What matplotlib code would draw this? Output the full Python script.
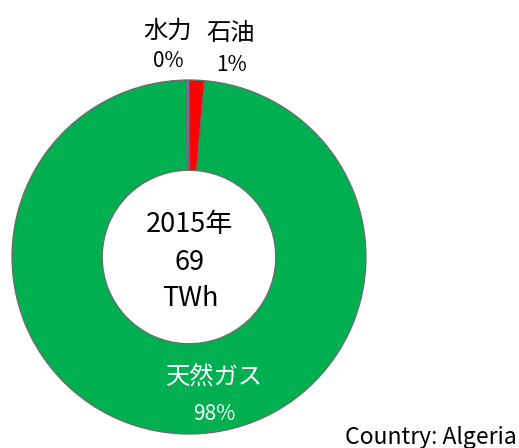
import matplotlib
matplotlib.use("Agg")
import matplotlib.pyplot as plt

plt.rcParams['font.family'] = ['Noto Sans CJK JP', 'DejaVu Sans']

# Data (clockwise from top)
labels = ['石油', '天然ガス', '水力']
shares = [1.4, 98.3, 0.3]
pct_labels = ['1%', '98%', '0%']
colors = ['#FF0000', '#00B050', '#4F81BD']
center_lines = ['2015年', '69', 'TWh']
country = 'Country: Algeria'

W, H = 519, 448
fig = plt.figure(figsize=(W / 100, H / 100), dpi=100)
ax = fig.add_axes([0, 0, 1, 1])

cx, cy, R = 189, 257, 177  # pixel geometry
def d(px, py):
    return (px - cx) / R, (cy - py) / R

wedges, _ = ax.pie(shares, colors=colors, startangle=90, counterclock=False,
                   radius=1.0, wedgeprops=dict(width=0.51, edgecolor='#6b6b6b', linewidth=0.9))
ax.set_xlim(-cx / R, (W - cx) / R)
ax.set_ylim(-(H - cy) / R, cy / R)
ax.set_aspect('auto')
ax.axis('off')

fs_cjk = 17.5
fs = 15
# 水力
x, y = d(168, 31); ax.text(x, y, labels[2], ha='center', va='center', fontsize=fs_cjk)
x, y = d(168, 61); ax.text(x, y, pct_labels[2], ha='center', va='center', fontsize=fs)
# 石油
x, y = d(231, 33); ax.text(x, y, labels[0], ha='center', va='center', fontsize=fs_cjk)
x, y = d(231, 65); ax.text(x, y, pct_labels[0], ha='center', va='center', fontsize=fs)
# 天然ガス
x, y = d(214, 378); ax.text(x, y, labels[1], ha='center', va='center', fontsize=fs_cjk, color='white')
x, y = d(214, 414); ax.text(x, y, pct_labels[1], ha='center', va='center', fontsize=fs, color='white')

# centre text
for line, py in zip(center_lines, [224, 262, 299]):
    x, y = d(190, py)
    ax.text(x, y, line, ha='center', va='center', fontsize=19.5)

fig.text(517 / W, 1 - 437 / H, country, ha='right', va='center', fontsize=16.5)

fig.savefig('out.png', dpi=100)
